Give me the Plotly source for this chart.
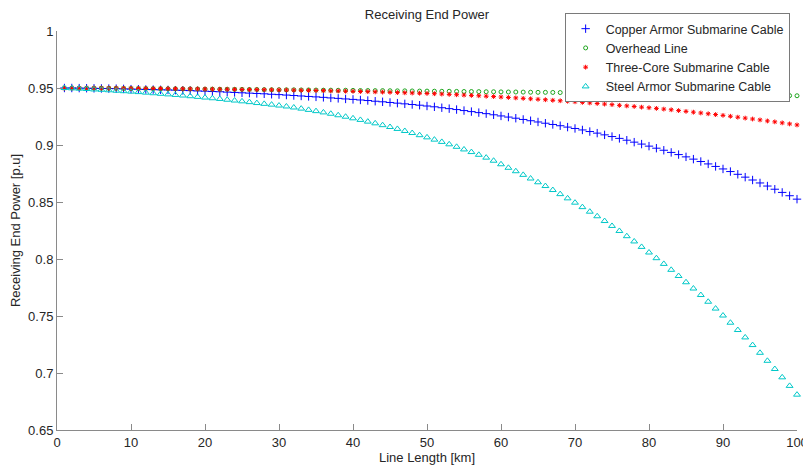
import plotly.graph_objects as go

line_length_km = list(range(1, 101))

copper_armor = [
    .9500, .9500, .9499, .9498, .9497, .9496, .9495, .9494, .9492, .9490,
    .9489, .9487, .9486, .9484, .9483, .9481, .9479, .9477, .9474, .9472,
    .9469, .9467, .9464, .9461, .9458, .9455, .9452, .9449, .9445, .9442,
    .9438, .9434, .9430, .9426, .9422, .9418, .9413, .9409, .9404, .9400,
    .9395, .9390, .9384, .9379, .9373, .9367, .9361, .9355, .9349, .9342,
    .9335, .9327, .9319, .9311, .9302, .9293, .9284, .9275, .9265, .9255,
    .9245, .9235, .9224, .9213, .9202, .9191, .9180, .9169, .9157, .9145,
    .9132, .9118, .9104, .9089, .9074, .9058, .9042, .9025, .9008, .8990,
    .8972, .8954, .8935, .8916, .8896, .8876, .8855, .8834, .8812, .8790,
    .8767, .8743, .8718, .8693, .8667, .8640, .8612, .8584, .8555, .8525,
]

overhead_line = [
    .9500, .9500, .9499, .9499, .9498, .9498, .9497, .9497, .9496, .9496,
    .9495, .9495, .9494, .9494, .9493, .9493, .9492, .9492, .9491, .9490,
    .9490, .9489, .9489, .9488, .9488, .9487, .9487, .9486, .9485, .9485,
    .9484, .9484, .9483, .9483, .9482, .9481, .9481, .9480, .9480, .9479,
    .9478, .9478, .9477, .9477, .9476, .9475, .9475, .9474, .9473, .9473,
    .9472, .9471, .9471, .9470, .9469, .9469, .9468, .9467, .9467, .9466,
    .9465, .9465, .9464, .9463, .9462, .9462, .9461, .9460, .9459, .9459,
    .9458, .9457, .9456, .9455, .9455, .9454, .9453, .9452, .9451, .9450,
    .9450, .9449, .9448, .9447, .9446, .9445, .9444, .9443, .9443, .9442,
    .9441, .9440, .9439, .9438, .9437, .9436, .9435, .9434, .9433, .9432,
]

three_core = [
    .9500, .9500, .9499, .9499, .9499, .9498, .9498, .9498, .9497, .9497,
    .9496, .9496, .9495, .9495, .9494, .9494, .9493, .9492, .9492, .9491,
    .9490, .9489, .9489, .9488, .9487, .9486, .9486, .9485, .9484, .9483,
    .9482, .9481, .9480, .9479, .9478, .9477, .9475, .9474, .9472, .9471,
    .9469, .9468, .9466, .9464, .9462, .9460, .9458, .9456, .9454, .9452,
    .9450, .9447, .9444, .9441, .9438, .9435, .9432, .9428, .9425, .9421,
    .9417, .9413, .9409, .9405, .9401, .9397, .9392, .9388, .9384, .9379,
    .9374, .9369, .9364, .9359, .9354, .9348, .9343, .9338, .9332, .9327,
    .9321, .9315, .9309, .9302, .9295, .9288, .9281, .9274, .9267, .9260,
    .9252, .9244, .9236, .9228, .9220, .9211, .9203, .9194, .9185, .9176,
]

steel_armor = [
    .9500, .9497, .9494, .9491, .9487, .9484, .9480, .9476, .9472, .9468,
    .9464, .9459, .9454, .9449, .9444, .9439, .9434, .9428, .9422, .9416,
    .9410, .9404, .9397, .9390, .9383, .9376, .9368, .9361, .9354, .9346,
    .9338, .9329, .9319, .9308, .9297, .9286, .9274, .9261, .9248, .9234,
    .9220, .9205, .9190, .9174, .9158, .9141, .9123, .9105, .9086, .9067,
    .9047, .9027, .9006, .8984, .8961, .8938, .8914, .8889, .8862, .8831,
    .8800, .8770, .8738, .8706, .8673, .8640, .8605, .8569, .8532, .8494,
    .8455, .8415, .8375, .8333, .8290, .8246, .8200, .8154, .8106, .8057,
    .8007, .7957, .7905, .7851, .7796, .7741, .7684, .7625, .7565, .7504,
    .7441, .7377, .7312, .7245, .7177, .7107, .7035, .6962, .6887, .6810,
]

x_ticks = [0, 10, 20, 30, 40, 50, 60, 70, 80, 90, 100]
y_ticks = [0.65, 0.7, 0.75, 0.8, 0.85, 0.9, 0.95, 1]
y_tick_labels = ["0.65", "0.7", "0.75", "0.8", "0.85", "0.9", "0.95", "1"]

FONT = "Liberation Sans, Arial, sans-serif"
TEXT = "#262626"
AXIS = "#8a8a8a"

fig = go.Figure()
series = [
    ("Copper Armor Submarine Cable", copper_armor, "cross-thin-open", "rgb(0,0,255)", 6),
    ("Overhead Line", overhead_line, "circle-open", "rgb(30,165,30)", 4),
    ("Three-Core Submarine Cable", three_core, "asterisk-open", "rgb(255,0,0)", 4),
    ("Steel Armor Submarine Cable", steel_armor, "triangle-up-open", "rgb(0,200,200)", 6),
]
for name, vals, sym, col, size in series:
    fig.add_trace(go.Scatter(
        x=line_length_km, y=vals, mode="markers", name=name,
        marker=dict(symbol=sym, color=col, size=size, line=dict(color=col, width=1)),
        cliponaxis=False,
    ))

# page body has an 8px margin, so the figure is 8px smaller and margins shifted
fig.update_layout(
    width=803, height=462,
    margin=dict(l=49, r=14, t=23, b=40, autoexpand=False),
    paper_bgcolor="white", plot_bgcolor="white",
    font=dict(family=FONT, size=13, color=TEXT),
    title=dict(text="Receiving End Power", x=0.5, xanchor="center",
               xref="paper", y=1, yref="container", yanchor="top", pad=dict(t=2),
               font=dict(family=FONT, size=13, color=TEXT)),
    showlegend=True,
    legend=dict(x=0.686, y=1.045, xanchor="left", yanchor="top",
                bgcolor="white", bordercolor="#7a7a7a", borderwidth=1,
                font=dict(family=FONT, size=12.5, color=TEXT),
                tracegroupgap=0, itemwidth=30),
)
fig.update_xaxes(
    range=[0, 100], tickvals=x_ticks, ticks="inside", ticklen=6, tickcolor=AXIS,
    showline=True, linecolor=AXIS, linewidth=1, showgrid=False, zeroline=False,
    mirror=False, automargin=False,
    title=dict(text="Line Length [km]", standoff=0,
               font=dict(family=FONT, size=13, color=TEXT)),
    tickfont=dict(family=FONT, size=13, color=TEXT),
)
fig.update_yaxes(
    range=[0.65, 1], tickvals=y_ticks, ticktext=y_tick_labels, ticks="inside",
    ticklen=6, tickcolor=AXIS, showline=True, linecolor=AXIS, linewidth=1,
    showgrid=False, zeroline=False, mirror=False, automargin=False,
    title=dict(text="Receiving End Power [p.u]", standoff=4,
               font=dict(family=FONT, size=13, color=TEXT)),
    tickfont=dict(family=FONT, size=13, color=TEXT),
)

fig.write_html("out.html")
